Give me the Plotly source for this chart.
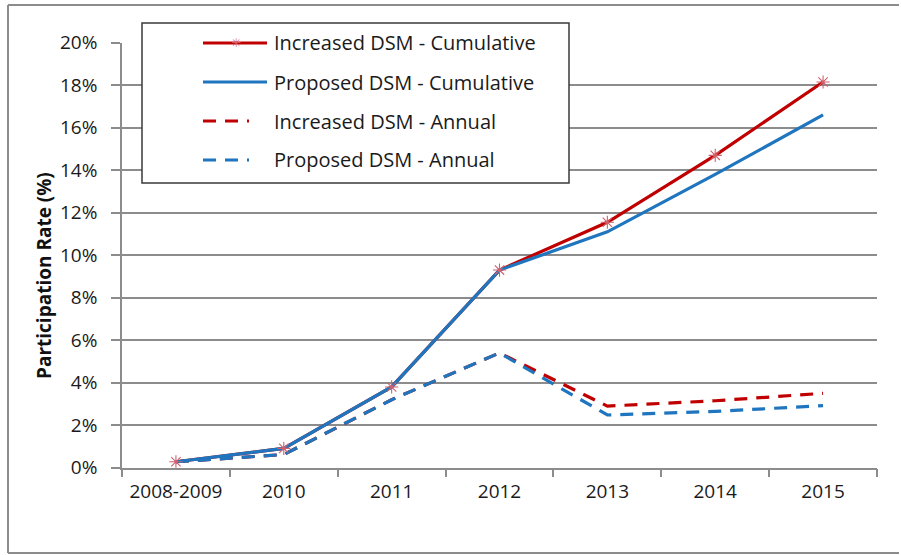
import plotly.graph_objects as go

# Participation rate by program year (%)
years = ["2008-2009", "2010", "2011", "2012", "2013", "2014", "2015"]
increased_cumulative = [0.28, 0.91, 3.8, 9.3, 11.55, 14.7, 18.15]
proposed_cumulative = [0.28, 0.91, 3.8, 9.3, 11.1, 13.8, 16.6]
increased_annual = [0.28, 0.62, 3.2, 5.4, 2.9, 3.15, 3.5]
proposed_annual = [0.28, 0.62, 3.2, 5.4, 2.48, 2.65, 2.92]
y_ticks = [0, 2, 4, 6, 8, 10, 12, 14, 16, 18, 20]
y_tick_labels = [f"{v}%" for v in y_ticks]

series_names = [
    "Increased DSM - Cumulative",
    "Proposed DSM - Cumulative",
    "Increased DSM - Annual",
    "Proposed DSM - Annual",
]

RED = "#C00000"
BLUE = "#1F75BE"
MARKER = "#D0606E"
GRID = "#8C8C8C"
FONT = "Open Sans"
W, H = 901, 555


def px(x):
    return x / W


def py(y):
    return 1 - y / H


fig = go.Figure()

fig.add_trace(go.Scatter(x=years, y=increased_cumulative, mode="lines",
                         line=dict(color=RED, width=3.2), name=series_names[0]))
fig.add_trace(go.Scatter(x=years, y=increased_annual, mode="lines",
                         line=dict(color=RED, width=3.2, dash="13px,9px"),
                         name=series_names[2]))
fig.add_trace(go.Scatter(x=years, y=proposed_cumulative, mode="lines",
                         line=dict(color=BLUE, width=3.2), name=series_names[1]))
fig.add_trace(go.Scatter(x=years, y=proposed_annual, mode="lines",
                         line=dict(color=BLUE, width=3.2, dash="13px,9px"),
                         name=series_names[3]))
# asterisk markers of the increased cumulative series, kept on top
fig.add_trace(go.Scatter(x=years, y=increased_cumulative, mode="markers",
                         marker=dict(symbol="asterisk-open", size=11,
                                     color=MARKER,
                                     line=dict(color=MARKER, width=1.1)),
                         showlegend=False, hoverinfo="skip"))

shapes = []
# outer frame: top, left and bottom edges (right edge lies off the page)
for x0, y0, x1, y1 in [(8, 5, W - 2, 5), (8, 5, 8, 553), (8, 553, W - 2, 553)]:
    shapes.append(dict(type="line", xref="paper", yref="paper",
                       x0=px(x0), x1=px(x1), y0=py(y0), y1=py(y1),
                       line=dict(color=GRID, width=2), layer="below"))

# legend box drawn by hand so the line samples have the wide Excel look
shapes.append(dict(type="rect", xref="paper", yref="paper",
                   x0=px(142), x1=px(569), y0=py(183), y1=py(23),
                   line=dict(color="#3a3a3a", width=1.5), fillcolor="white",
                   layer="above"))

rows = [43, 82, 121, 160]
styles = [(RED, "solid", 267), (BLUE, "solid", 267),
          (RED, "13px,9px", 249), (BLUE, "13px,9px", 249)]
annotations = []
for name, ry, (col, dash, xend) in zip(series_names, rows, styles):
    shapes.append(dict(type="line", xref="paper", yref="paper",
                       x0=px(203), x1=px(xend), y0=py(ry), y1=py(ry),
                       line=dict(color=col, width=3.2, dash=dash),
                       layer="above"))
    annotations.append(dict(x=px(272), y=py(ry), xref="paper", yref="paper",
                            text=name, showarrow=False, xanchor="left",
                            yanchor="middle",
                            font=dict(family=FONT, size=20, color="#1a1a1a")))

# asterisk glyph on the first legend sample
annotations.append(dict(x=px(236), y=py(rows[0]), xref="paper", yref="paper",
                        text="✳", showarrow=False, xanchor="center",
                        yanchor="middle",
                        font=dict(family="DejaVu Sans", size=12, color=MARKER)))

annotations.append(dict(x=px(44), y=py(276), xref="paper", yref="paper",
                        text="<b>Participation Rate (%)</b>", showarrow=False,
                        textangle=-90, xanchor="center", yanchor="middle",
                        font=dict(family=FONT, size=19, color="#111")))

fig.update_layout(
    width=W, height=H,
    margin=dict(l=0, r=0, t=0, b=0, autoexpand=False),
    paper_bgcolor="white", plot_bgcolor="white",
    showlegend=False,
    shapes=shapes,
    annotations=annotations,
    font=dict(family=FONT, size=19, color="#1a1a1a"),
    xaxis=dict(
        domain=[px(122), px(877)], automargin=False,
        type="category", categoryorder="array", categoryarray=years,
        range=[-0.5, len(years) - 0.5],
        showgrid=False, showline=True, linecolor=GRID, linewidth=1.5,
        ticks="outside", tickson="boundaries", ticklen=8, tickcolor=GRID,
        tickwidth=1.5, ticklabelstandoff=6,
        tickfont=dict(family=FONT, size=19, color="#1a1a1a"),
    ),
    yaxis=dict(
        domain=[py(467.7), py(42.7)], automargin=False,
        range=[0, 20], tickvals=y_ticks, ticktext=y_tick_labels,
        showgrid=True, gridcolor=GRID, gridwidth=1.5,
        showline=True, linecolor=GRID, linewidth=1.5,
        ticks="outside", ticklen=9, tickcolor=GRID, tickwidth=1.5,
        ticklabelstandoff=10, zeroline=False,
        tickfont=dict(family=FONT, size=19, color="#1a1a1a"),
    ),
)

fig.write_html("out.html")
